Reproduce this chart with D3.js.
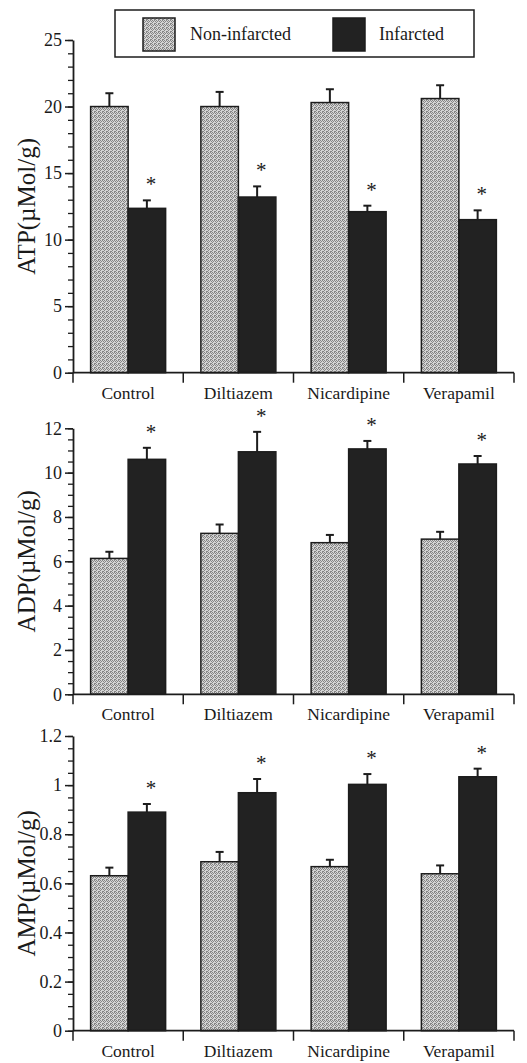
<!DOCTYPE html>
<html>
<head>
<meta charset="utf-8">
<script src="https://cdn.jsdelivr.net/npm/d3@7"></script>
<style>
  html, body { margin: 0; padding: 0; background: #fff; }
  svg { display: block; }
  svg text { font-family: "Liberation Serif", "Times New Roman", Times, serif !important; fill: #1a1a1a; }
</style>
</head>
<body>
<svg id="chart" width="527" height="1063" font-family="Liberation Serif"></svg>
<script>
// ---------- DATA ----------
const categories = ["Control", "Diltiazem", "Nicardipine", "Verapamil"];
const seriesNames = ["Non-infarcted", "Infarcted"];

const atpNon    = [20.0, 20.0, 20.3, 20.6];
const atpNonErr = [1.0, 1.1, 1.0, 1.0];
const atpInf    = [12.35, 13.2, 12.1, 11.5];
const atpInfErr = [0.6, 0.8, 0.45, 0.7];

const adpNon    = [6.13, 7.26, 6.84, 7.0];
const adpNonErr = [0.3, 0.4, 0.35, 0.33];
const adpInf    = [10.6, 10.94, 11.07, 10.39];
const adpInfErr = [0.52, 0.9, 0.36, 0.36];

const ampNon    = [0.631, 0.688, 0.668, 0.639];
const ampNonErr = [0.033, 0.04, 0.028, 0.034];
const ampInf    = [0.890, 0.969, 1.003, 1.034];
const ampInfErr = [0.033, 0.056, 0.042, 0.033];

const atpTicks = [0, 5, 10, 15, 20, 25];
const adpTicks = [0, 2, 4, 6, 8, 10, 12];
const ampTicks = [0, 0.2, 0.4, 0.6, 0.8, 1, 1.2];

const atpTitle = "ATP(\u00b5Mol/g)";
const adpTitle = "ADP(\u00b5Mol/g)";
const ampTitle = "AMP(\u00b5Mol/g)";

// ---------- LAYOUT ----------
const FONT = "'Liberation Serif', 'Times New Roman', serif";
const svg = d3.select("#chart");
const ink = "#1c1c1c";

const defs = svg.append("defs");
const pat = defs.append("pattern").attr("id", "stipple")
  .attr("width", 4).attr("height", 4).attr("patternUnits", "userSpaceOnUse");
pat.append("rect").attr("width", 4).attr("height", 4).attr("fill", "#d4d4d4");
[[0,0],[2,0],[1,1],[3,1],[0,2],[2,3],[3,3]].forEach(([x,y]) => {
  pat.append("rect").attr("x", x).attr("y", y).attr("width", 1).attr("height", 1).attr("fill", "#858585");
});

const fills = { "Non-infarcted": "url(#stipple)", "Infarcted": "#222222" };

const xLeft = 73, xRight = 514;
const x0 = d3.scaleBand().domain(categories).range([xLeft, xRight]).paddingInner(0).paddingOuter(0);
const x1 = d3.scaleBand().domain(seriesNames).range([0, x0.bandwidth()]).paddingInner(0).paddingOuter(0.47);

const panels = [
  { title: atpTitle, non: atpNon, nonErr: atpNonErr, inf: atpInf, infErr: atpInfErr,
    ticks: atpTicks, minorStep: 1, top: 40, bottom: 372.7 },
  { title: adpTitle, non: adpNon, nonErr: adpNonErr, inf: adpInf, infErr: adpInfErr,
    ticks: adpTicks, minorStep: 0.5, top: 428.3, bottom: 694.3 },
  { title: ampTitle, non: ampNon, nonErr: ampNonErr, inf: ampInf, infErr: ampInfErr,
    ticks: ampTicks, minorStep: 0.05, top: 736, bottom: 1030.7 }
];

const fmt = d => String(+d.toFixed(2));

panels.forEach(p => {
  const maxV = p.ticks[p.ticks.length - 1];
  const y = d3.scaleLinear().domain([0, maxV]).range([p.bottom, p.top]);
  const g = svg.append("g");

  const rows = [];
  categories.forEach((c, i) => {
    rows.push({ cat: c, s: "Non-infarcted", v: p.non[i], e: p.nonErr[i], sig: false });
    rows.push({ cat: c, s: "Infarcted", v: p.inf[i], e: p.infErr[i], sig: true });
  });

  // bars
  g.selectAll("rect.bar").data(rows).join("rect").attr("class", "bar")
    .attr("x", d => x0(d.cat) + x1(d.s))
    .attr("y", d => y(d.v))
    .attr("width", x1.bandwidth())
    .attr("height", d => y(0) - y(d.v))
    .attr("fill", d => fills[d.s])
    .attr("stroke", ink).attr("stroke-width", 1.5);

  // error bars (upper only)
  const cx = d => x0(d.cat) + x1(d.s) + x1.bandwidth() / 2;
  g.selectAll("line.err").data(rows).join("line").attr("class", "err")
    .attr("x1", cx).attr("x2", cx)
    .attr("y1", d => y(d.v)).attr("y2", d => y(d.v + d.e))
    .attr("stroke", ink).attr("stroke-width", 2);
  g.selectAll("line.cap").data(rows).join("line").attr("class", "cap")
    .attr("x1", d => cx(d) - 4).attr("x2", d => cx(d) + 4)
    .attr("y1", d => y(d.v + d.e)).attr("y2", d => y(d.v + d.e))
    .attr("stroke", ink).attr("stroke-width", 2);

  // asterisks
  g.selectAll("text.star").data(rows.filter(d => d.sig)).join("text").attr("class", "star")
    .attr("x", d => cx(d) + 4)
    .attr("y", d => y(d.v + d.e) - 20 + 11)
    .attr("text-anchor", "middle")
    .attr("font-size", 21)
    .style("font-family", FONT)
    .text("*");

  // y axis
  const minor = d3.range(0, maxV + p.minorStep / 2, p.minorStep);
  const yMinor = g.append("g").attr("transform", `translate(${xLeft},0)`)
    .call(d3.axisLeft(y).tickValues(minor).tickSize(5).tickFormat(""));
  yMinor.select(".domain").remove();
  yMinor.selectAll("line").attr("stroke", ink).attr("stroke-width", 1.3);

  const yAx = g.append("g").attr("transform", `translate(${xLeft},0)`)
    .call(d3.axisLeft(y).tickValues(p.ticks).tickSize(8).tickPadding(3).tickFormat(fmt).tickSizeOuter(0));
  yAx.attr("font-family", FONT);
  yAx.select(".domain").attr("stroke", ink).attr("stroke-width", 1.8);
  yAx.selectAll("line").attr("stroke", ink).attr("stroke-width", 1.5);
  yAx.selectAll("text").attr("font-size", 18).attr("fill", "#1a1a1a")
    .style("font-family", FONT);

  // x axis: baseline line with downward ticks at category boundaries
  g.append("line").attr("x1", xLeft).attr("x2", xRight)
    .attr("y1", y(0)).attr("y2", y(0))
    .attr("stroke", ink).attr("stroke-width", 1.8);
  const bounds = categories.map(c => x0(c)).concat([x0.range()[1]]);
  g.selectAll("line.xt").data(bounds).join("line").attr("class", "xt")
    .attr("x1", d => d).attr("x2", d => d)
    .attr("y1", y(0)).attr("y2", y(0) + 10)
    .attr("stroke", ink).attr("stroke-width", 1.5);
  g.selectAll("text.xl").data(categories).join("text").attr("class", "xl")
    .attr("x", d => x0(d) + x0.bandwidth() / 2)
    .attr("y", y(0) + 26)
    .attr("text-anchor", "middle")
    .attr("font-size", 17.5)
    .style("font-family", FONT)
    .text(d => d);

  // y title
  const midY = (p.top + p.bottom) / 2;
  g.append("text")
    .attr("transform", `translate(35,${midY}) rotate(-90)`)
    .attr("text-anchor", "middle")
    .attr("font-size", 25)
    .style("font-family", FONT)
    .text(p.title);
});

// ---------- LEGEND ----------
const leg = svg.append("g");
leg.append("rect").attr("x", 115).attr("y", 10).attr("width", 359).attr("height", 47)
  .attr("fill", "#fff").attr("stroke", ink).attr("stroke-width", 1.5);
const legItems = [
  { s: "Non-infarcted", sx: 143, tx: 190 },
  { s: "Infarcted", sx: 333, tx: 379 }
];
leg.selectAll("rect.sw").data(legItems).join("rect").attr("class", "sw")
  .attr("x", d => d.sx).attr("y", 18).attr("width", 32).attr("height", 33)
  .attr("fill", d => fills[d.s]).attr("stroke", ink).attr("stroke-width", 1.5);
leg.selectAll("text.lt").data(legItems).join("text").attr("class", "lt")
  .attr("x", d => d.tx).attr("y", 40)
  .attr("font-size", 18)
  .style("font-family", FONT)
  .text(d => d.s);
</script>
</body>
</html>
